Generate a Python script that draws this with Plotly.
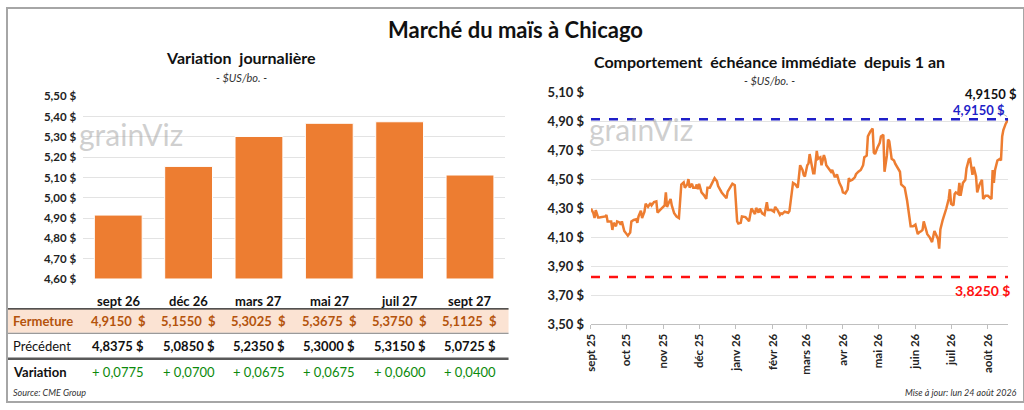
import plotly.graph_objects as go
import pandas as pd

# ---------------- DATA ----------------
contracts = ["sept 26", "déc 26", "mars 27", "mai 27", "juil 27", "sept 27"]
fermeture = [4.9150, 5.1550, 5.3025, 5.3675, 5.3750, 5.1125]
precedent = [4.8375, 5.0850, 5.2350, 5.3000, 5.3150, 5.0725]

left_ticks = [4.60, 4.70, 4.80, 4.90, 5.00, 5.10, 5.20, 5.30, 5.40, 5.50]
right_ticks = [3.50, 3.70, 3.90, 4.10, 4.30, 4.50, 4.70, 4.90, 5.10]

start_date = "2025-09-01"
day_offset = [0, 2, 3, 4, 6, 7, 12, 13, 14, 17, 18, 19, 21, 22, 24, 25, 26, 28, 30, 31,
              33, 34, 36, 38, 39, 40, 42, 43, 45, 46, 48, 50, 51, 53, 55, 56, 58, 60, 62, 63,
              64, 65, 67, 68, 70, 72, 74, 76, 78, 79, 81, 82, 83, 85, 86, 88, 89, 90, 91, 93,
              95, 97, 98, 100, 102, 104, 106, 107, 110, 112, 114, 115, 117, 119, 121, 122, 123, 124, 126, 127,
              130, 132, 133, 135, 136, 138, 139, 141, 142, 144, 146, 147, 148, 149, 152, 154, 155, 157, 159, 160,
              161, 163, 166, 167, 168, 170, 172, 173, 174, 176, 178, 179, 180, 182, 183, 184, 186, 187, 188, 190,
              191, 193, 194, 196, 197, 198, 200, 202, 203, 205, 206, 207, 209, 211, 212, 214, 216, 217, 218, 220,
              222, 223, 225, 227, 229, 230, 232, 233, 235, 237, 238, 239, 241, 243, 244, 246, 247, 249, 250, 251,
              253, 255, 256, 257, 259, 260, 261, 263, 264, 266, 268, 269, 271, 273, 275, 276, 278, 279, 280, 282,
              283, 285, 287, 289, 290, 292, 293, 294, 296, 297, 299, 301, 302, 303, 305, 306, 307, 309, 310, 311,
              313, 315, 316, 318, 319, 321, 322, 324, 325, 327, 329, 330, 332, 334, 336, 337, 338, 339, 340, 341,
              342, 344, 345, 346, 347, 349, 351]
prices = [4.299, 4.266, 4.233, 4.288, 4.237, 4.237, 4.244, 4.255, 4.210, 4.210, 4.151, 4.200, 4.177, 4.210, 4.203, 4.188, 4.210, 4.144, 4.122, 4.111,
          4.133, 4.210, 4.220, 4.225, 4.200, 4.244, 4.283, 4.233, 4.277, 4.332, 4.310, 4.336, 4.320, 4.343, 4.348, 4.270, 4.288, 4.305, 4.320, 4.410,
          4.310, 4.330, 4.365, 4.320, 4.266, 4.244, 4.233, 4.465, 4.480, 4.443, 4.465, 4.502, 4.443, 4.470, 4.443, 4.443, 4.465, 4.432, 4.470, 4.410,
          4.392, 4.365, 4.443, 4.443, 4.472, 4.509, 4.487, 4.454, 4.410, 4.387, 4.370, 4.416, 4.447, 4.470, 4.460, 4.365, 4.210, 4.195, 4.200, 4.244,
          4.240, 4.222, 4.210, 4.299, 4.288, 4.261, 4.303, 4.270, 4.299, 4.266, 4.255, 4.300, 4.343, 4.288, 4.288, 4.277, 4.310, 4.288, 4.255, 4.266,
          4.261, 4.277, 4.270, 4.281, 4.343, 4.476, 4.465, 4.454, 4.443, 4.598, 4.565, 4.531, 4.520, 4.598, 4.609, 4.675, 4.576, 4.542, 4.542, 4.697,
          4.642, 4.653, 4.598, 4.668, 4.642, 4.598, 4.575, 4.553, 4.565, 4.520, 4.520, 4.536, 4.476, 4.443, 4.410, 4.403, 4.432, 4.509, 4.490, 4.498,
          4.514, 4.536, 4.553, 4.565, 4.598, 4.653, 4.664, 4.797, 4.830, 4.852, 4.686, 4.675, 4.719, 4.753, 4.797, 4.808, 4.553, 4.664, 4.775, 4.764,
          4.642, 4.631, 4.609, 4.593, 4.565, 4.553, 4.465, 4.454, 4.443, 4.354, 4.233, 4.177, 4.177, 4.188, 4.122, 4.133, 4.144, 4.151, 4.210, 4.144,
          4.122, 4.100, 4.067, 4.144, 4.122, 4.089, 4.022, 4.155, 4.221, 4.244, 4.299, 4.365, 4.432, 4.332, 4.320, 4.399, 4.410, 4.399, 4.476, 4.387,
          4.476, 4.498, 4.576, 4.638, 4.642, 4.531, 4.587, 4.520, 4.410, 4.465, 4.498, 4.365, 4.387, 4.387, 4.376, 4.365, 4.565, 4.476, 4.565, 4.609,
          4.631, 4.642, 4.631, 4.797, 4.841, 4.885, 4.915]

high_1y = 4.9150
low_1y = 3.8250

month_ticks = ["2025-09-01", "2025-10-01", "2025-11-01", "2025-12-01", "2026-01-01", "2026-02-01",
               "2026-03-01", "2026-04-01", "2026-05-01", "2026-06-01", "2026-07-01", "2026-08-01"]
month_labels = ["sept 25", "oct 25", "nov 25", "déc 25", "janv 26", "févr 26",
                "mars 26", "avr 26", "mai 26", "juin 26", "juil 26", "août 26"]

# ---------------- HELPERS ----------------
W, H = 1024, 410
FONT = "Lato"
ORANGE = "#ED7D31"


def px(x):
    return x / W


def py(y):
    return 1 - y / H


def fr(v, nd=2):
    return f"{v:.{nd}f}".replace(".", ",")


dates = pd.to_datetime(start_date) + pd.to_timedelta(day_offset, unit="D")
variation = [round(f - p, 4) for f, p in zip(fermeture, precedent)]

fig = go.Figure()

# Left bar chart
fig.add_trace(go.Bar(
    x=contracts, y=[v - 4.60 for v in fermeture], base=4.60,
    marker=dict(color=ORANGE, line=dict(color="white", width=1)),
    width=0.68, xaxis="x", yaxis="y", showlegend=False, hoverinfo="skip"))

# Right line chart
fig.add_trace(go.Scatter(
    x=dates, y=prices, mode="lines",
    line=dict(color=ORANGE, width=2.5),
    xaxis="x2", yaxis="y2", showlegend=False, hoverinfo="skip"))

end_date = dates[-1]
fig.add_trace(go.Scatter(
    x=[dates[0], end_date], y=[high_1y, high_1y], mode="lines",
    line=dict(color="#1F1FC8", width=2.5, dash="dash"),
    xaxis="x2", yaxis="y2", showlegend=False, hoverinfo="skip"))
fig.add_trace(go.Scatter(
    x=[dates[0], end_date], y=[low_1y, low_1y], mode="lines",
    line=dict(color="#FF1010", width=2.5, dash="dash"),
    xaxis="x2", yaxis="y2", showlegend=False, hoverinfo="skip"))

grid = "#E3E3E3"
fig.update_layout(
    width=W, height=H,
    margin=dict(l=0, r=0, t=0, b=0),
    paper_bgcolor="white", plot_bgcolor="white",
    font=dict(family=FONT, color="#222222"),
    bargap=0.32,
    xaxis=dict(domain=[px(76.6), px(501.6)], showticklabels=False, showgrid=False,
               zeroline=False, showline=False, fixedrange=True),
    yaxis=dict(domain=[py(282), py(92)], range=[4.60, 5.50],
               tickvals=left_ticks, ticktext=[f"<b>{fr(v)} $</b>" for v in left_ticks],
               tickfont=dict(size=11.5, color="#222222"),
               showgrid=True, gridcolor=grid, gridwidth=1, zeroline=False,
               ticks="", ticklabelstandoff=6),
    xaxis2=dict(domain=[px(588), px(1008)], type="date",
                range=[dates[0], end_date],
                tickvals=month_ticks, ticktext=[f"<b>{t}</b>" for t in month_labels],
                tickangle=-90, tickfont=dict(size=11.5, color="#222222"),
                showgrid=False, zeroline=False, showline=True, linecolor="#BFBFBF",
                ticks="outside", ticklen=4, tickcolor="#BFBFBF", anchor="y2"),
    yaxis2=dict(domain=[py(329), py(88)], range=[3.50, 5.10],
                tickvals=right_ticks, ticktext=[f"<b>{fr(v)} $</b>" for v in right_ticks],
                tickfont=dict(size=13, color="#222222"),
                showgrid=True, gridcolor=grid, gridwidth=1, zeroline=False,
                ticks="", anchor="x2", ticklabelstandoff=6),
)

shapes = []
# outer frame
shapes.append(dict(type="rect", xref="paper", yref="paper", x0=0, x1=1, y0=0, y1=1,
                   line=dict(color="#A6A6A6", width=2), fillcolor="rgba(0,0,0,0)"))
# table: Fermeture band
shapes.append(dict(type="rect", xref="paper", yref="paper", x0=px(1), x1=px(505),
                   y0=py(338), y1=py(313), fillcolor="#FBE3D3", line=dict(width=0), layer="below"))
shapes.append(dict(type="line", xref="paper", yref="paper", x0=px(1), x1=px(505),
                   y0=py(313), y1=py(313), line=dict(color="#1a1a1a", width=1.2)))
shapes.append(dict(type="line", xref="paper", yref="paper", x0=px(1), x1=px(505),
                   y0=py(338.5), y1=py(338.5), line=dict(color="#7F7F7F", width=1)))
shapes.append(dict(type="line", xref="paper", yref="paper", x0=px(1), x1=px(505),
                   y0=py(365), y1=py(365), line=dict(color="#595959", width=2.5)))
# leader line for the last-value label
shapes.append(dict(type="line", xref="paper", yref="paper", x0=px(998), x1=px(1007),
                   y0=py(107), y1=py(113), line=dict(color="#BFBFBF", width=1)))
fig.update_layout(shapes=shapes)

ann = []


def A(text, x, y, size, color="#111111", xanchor="center", xref="paper", yanchor="middle", **kw):
    ann.append(dict(text=text, x=x, y=y, xref=xref, yref="paper", showarrow=False,
                    font=dict(size=size, color=color, family=FONT), xanchor=xanchor,
                    yanchor=yanchor, **kw))


A("<b>Marché du maïs à Chicago</b>", 0.5, py(22), 22)
A("<b>Variation  journalière</b>", px(236), py(52), 16)
A("<i>- $US/bo. -</i>", px(236), py(72), 11, "#333333")
A("<b>Comportement  échéance immédiate  depuis 1 an</b>", px(768), py(56), 16)
A("<i>- $US/bo. -</i>", px(768), py(75), 11, "#333333")

# watermark
A("grainViz", px(125), py(131), 30, "rgba(160,160,160,0.5)")
A("grainViz", px(638), py(126), 30, "rgba(160,160,160,0.5)")

# table
for c, f, p, v in zip(contracts, fermeture, precedent, variation):
    A(f"<b>{c}</b>", c, py(305), 13, "#111111", xref="x")
    A(f"<b>{fr(f, 4)}  $</b>", c, py(326), 13, "#B4530C", xref="x")
    A(f"<b>{fr(p, 4)} $</b>", c, py(352), 13, "#111111", xref="x")
    A(f"+ {fr(v, 4)}", c, py(379), 13, "#0B8A0B", xref="x")
A("<b>Fermeture</b>", px(4), py(326), 13, "#B4530C", xanchor="left")
A("Précédent", px(4), py(352), 13, "#111111", xanchor="left")
A("<b>Variation</b>", px(4), py(379), 13, "#111111", xanchor="left")
A("<i>Source: CME Group</i>", px(4), py(400), 9, "#333333", xanchor="left")
A("<i>Mise à jour: lun 24 août 2026</i>", px(1019), py(400), 9, "#333333", xanchor="right")

# high/low labels
A(f"<b>{fr(prices[-1], 4)} $</b>", px(1019), py(89), 13, "#111111", xanchor="right")
A(f"<b>{fr(high_1y, 4)} $</b>", px(1007), py(106), 13, "#1F1FC8", xanchor="right")
A(f"<b>{fr(low_1y, 4)} $</b>", px(1012), py(294), 14, "#FF1010", xanchor="right")

fig.update_layout(annotations=ann)
fig.write_html(
    "out.html",
    config={"displayModeBar": False},
    post_script="document.body.style.margin='0';document.body.style.overflow='hidden';"
                "document.documentElement.style.overflow='hidden';",
)
